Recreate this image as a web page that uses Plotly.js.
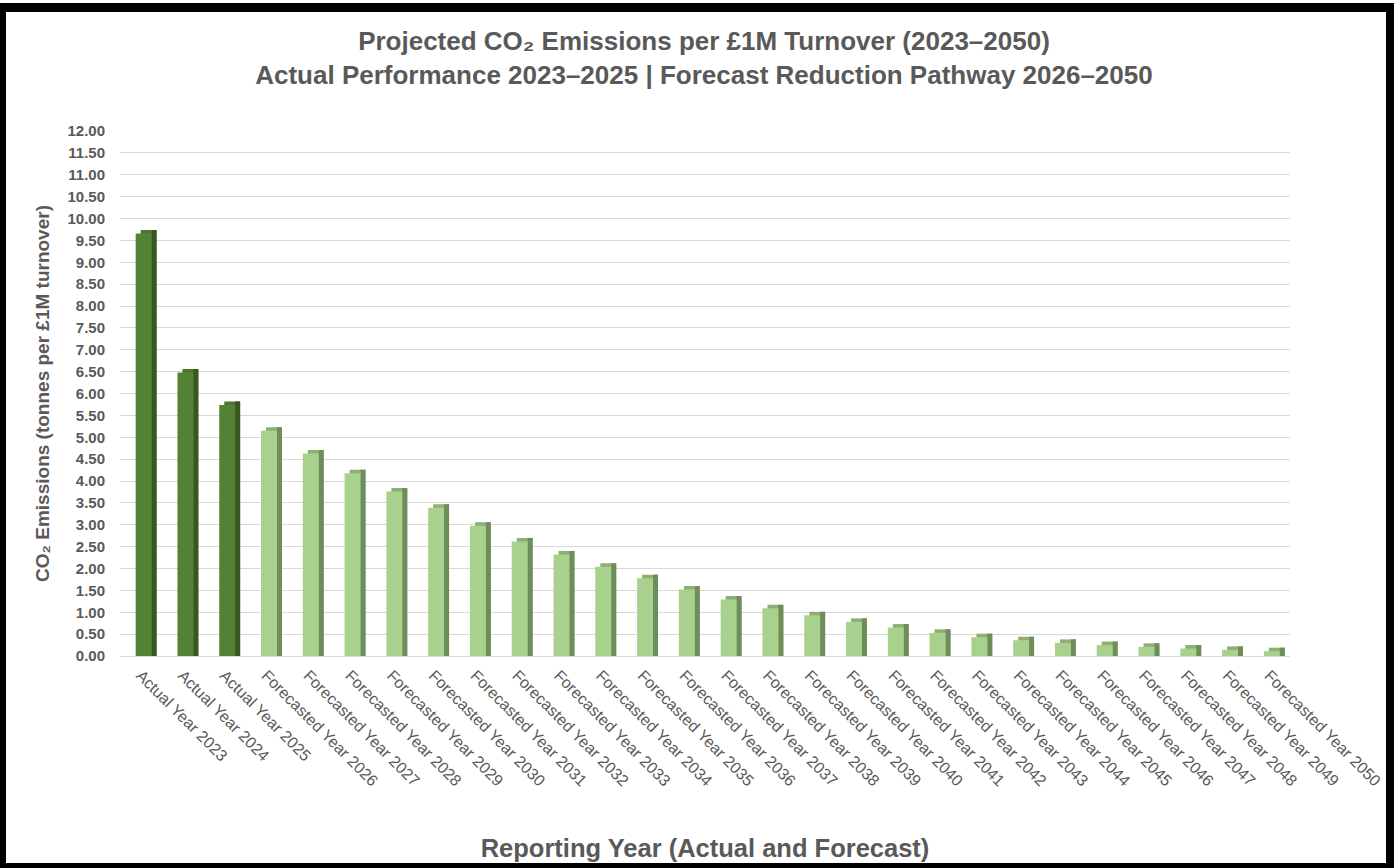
<!DOCTYPE html>
<html>
<head>
<meta charset="utf-8">
<script src="https://cdn.plot.ly/plotly-3.0.1.min.js"></script>
<style>
  html, body { margin: 0; padding: 0; background: #ffffff; }
  #chart { position: absolute; left: 0; top: 0; width: 1394px; height: 868px; }
  #frame { position: absolute; left: 0; top: 3px; width: 1394px; height: 865px; box-sizing: border-box;
           border-style: solid; border-color: #000; border-width: 9px 8px 5px 6px; pointer-events: none; }
</style>
</head>
<body>
<div id="chart"></div>
<div id="frame"></div>
<script>
// ---- data ----
const categories = [
  "Actual Year 2023", "Actual Year 2024", "Actual Year 2025",
  "Forecasted Year 2026", "Forecasted Year 2027", "Forecasted Year 2028", "Forecasted Year 2029",
  "Forecasted Year 2030", "Forecasted Year 2031", "Forecasted Year 2032", "Forecasted Year 2033",
  "Forecasted Year 2034", "Forecasted Year 2035", "Forecasted Year 2036", "Forecasted Year 2037",
  "Forecasted Year 2038", "Forecasted Year 2039", "Forecasted Year 2040", "Forecasted Year 2041",
  "Forecasted Year 2042", "Forecasted Year 2043", "Forecasted Year 2044", "Forecasted Year 2045",
  "Forecasted Year 2046", "Forecasted Year 2047", "Forecasted Year 2048", "Forecasted Year 2049",
  "Forecasted Year 2050"
];
const emissions = [
  9.66, 6.48, 5.74,
  5.15, 4.63, 4.18, 3.76,
  3.39, 2.98, 2.62, 2.32,
  2.04, 1.78, 1.52, 1.29,
  1.09, 0.93, 0.78, 0.65,
  0.53, 0.43, 0.36, 0.30,
  0.25, 0.21, 0.17, 0.14,
  0.11
];
const yTickValues = [0,0.5,1,1.5,2,2.5,3,3.5,4,4.5,5,5.5,6,6.5,7,7.5,8,8.5,9,9.5,10,10.5,11,11.5,12];

// ---- styling ----
const isActual = categories.map(c => c.startsWith("Actual"));
const frontColors = isActual.map(a => a ? "#548235" : "#A9D18E");
const topColors   = isActual.map(a => a ? "#4B7530" : "#8DAF74");
const sideColors  = isActual.map(a => a ? "#385723" : "#6F8C5B");
const depthY = 0.08;   // apparent 3-D depth in data units
const withDepth = emissions.map(v => v + depthY);

const FRONT_W = 0.38, SIDE_W = 0.12, FRONT_OFF = -0.125;
const traces = [
  { type: "bar", x: categories, y: withDepth, width: FRONT_W, offset: FRONT_OFF + SIDE_W,
    marker: { color: topColors, line: { width: 0 } }, hoverinfo: "skip", showlegend: false },
  { type: "bar", x: categories, y: withDepth, width: SIDE_W, offset: FRONT_OFF + FRONT_W,
    marker: { color: sideColors, line: { width: 0 } }, hoverinfo: "skip", showlegend: false },
  { type: "bar", x: categories, y: emissions, width: FRONT_W, offset: FRONT_OFF,
    marker: { color: frontColors, line: { width: 0 } }, showlegend: false,
    hovertemplate: "%{x}: %{y:.2f}<extra></extra>" }
];

const grey = "#595959";
const layout = {
  width: 1394, height: 868,
  paper_bgcolor: "#ffffff", plot_bgcolor: "#ffffff",
  margin: { l: 120, r: 104, t: 131, b: 212, autoexpand: false },
  barmode: "overlay",
  font: { family: "Liberation Sans, Arial, sans-serif", color: grey },
  title: {
    text: "Projected CO₂ Emissions per £1M Turnover (2023–2050)<br>Actual Performance 2023–2025 | Forecast Reduction Pathway 2026–2050",
    font: { size: 26, weight: "bold", color: grey },
    x: 0.505, xref: "container", xanchor: "center",
    y: 1 - 50/868, yref: "container", yanchor: "top"
  },
  xaxis: {
    type: "category",
    tickangle: 45,
    tickfont: { size: 16, color: grey },
    ticklabelstandoff: 6,
    showgrid: false, showline: false, zeroline: false, ticks: "",
    automargin: false,
    title: { text: "Reporting Year (Actual and Forecast)", font: { size: 25.5, weight: "bold", color: grey }, standoff: 50 }
  },
  yaxis: {
    range: [0, 12],
    tickvals: yTickValues,
    tickformat: ".2f",
    tickfont: { size: 15, weight: "bold", color: grey },
    ticklabelstandoff: 14,
    showgrid: true, gridcolor: "#D9D9D9", gridwidth: 1,
    zeroline: true, zerolinecolor: "#D9D9D9", zerolinewidth: 1,
    showline: false, ticks: "",
    automargin: false,
    title: { text: "CO₂ Emissions (tonnes per £1M turnover)", font: { size: 19, weight: "bold", color: grey }, standoff: 12 }
  }
};

Plotly.newPlot("chart", traces, layout, { staticPlot: true, displayModeBar: false });
</script>
</body>
</html>
